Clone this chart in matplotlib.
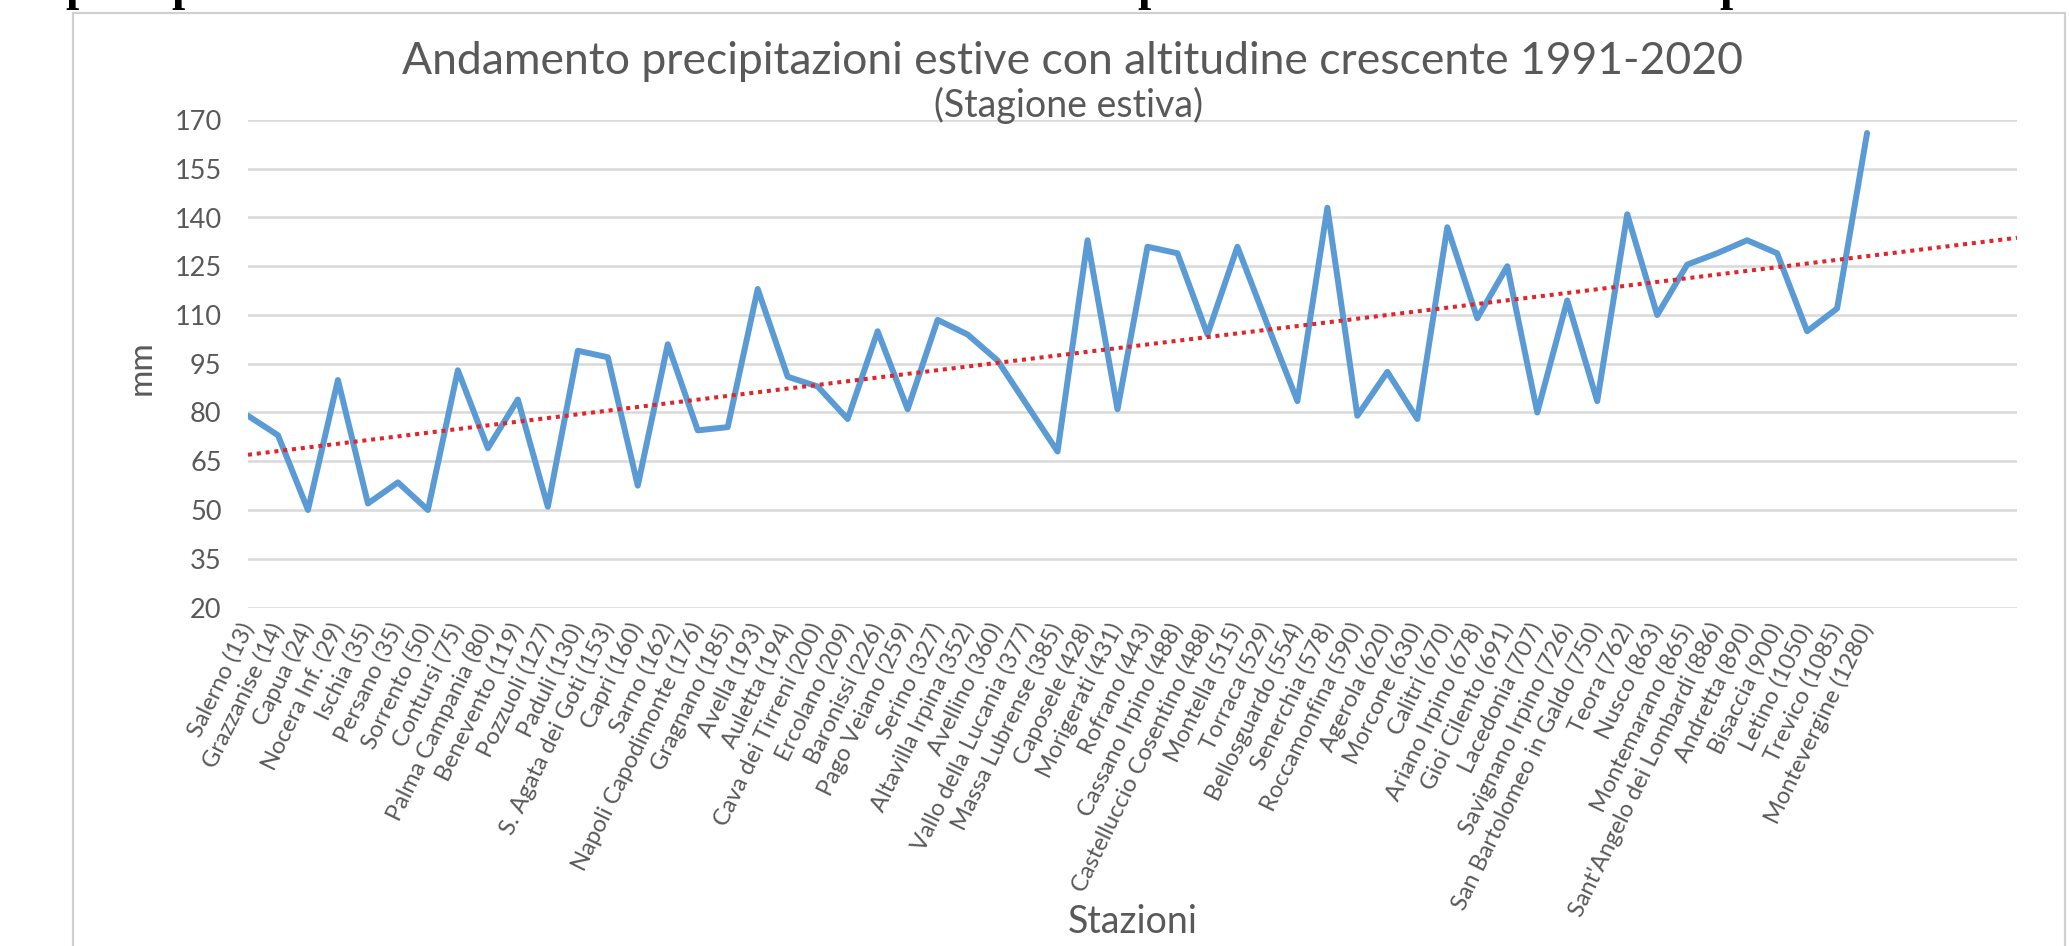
import numpy as np
import matplotlib
matplotlib.use("Agg")
from matplotlib import pyplot as plt
from matplotlib.patches import Rectangle

STATIONS = [
    "Salerno", "Grazzanise", "Capua", "Nocera Inf.", "Ischia", "Persano",
    "Sorrento", "Contursi", "Palma Campania", "Benevento", "Pozzuoli",
    "Paduli", "S. Agata dei Goti", "Capri", "Sarno", "Napoli Capodimonte",
    "Gragnano", "Avella", "Auletta", "Cava dei Tirreni", "Ercolano",
    "Baronissi", "Pago Veiano", "Serino", "Altavilla Irpina", "Avellino",
    "Vallo della Lucania", "Massa Lubrense", "Caposele", "Morigerati",
    "Rofrano", "Cassano Irpino", "Castelluccio Cosentino", "Montella",
    "Torraca", "Bellosguardo", "Senerchia", "Roccamonfina", "Agerola",
    "Morcone", "Calitri", "Ariano Irpino", "Gioi Cilento", "Lacedonia",
    "Savignano Irpino", "San Bartolomeo in Galdo", "Teora", "Nusco",
    "Montemarano", "Sant'Angelo dei Lombardi", "Andretta", "Bisaccia",
    "Letino", "Trevico", "Montevergine",
]
ALTITUDES = [
    13, 14, 24, 29, 35, 35, 50, 75, 80, 119, 127, 130, 153, 160, 162, 176,
    185, 193, 194, 200, 209, 226, 259, 327, 352, 360, 377, 385, 428, 431,
    443, 488, 488, 515, 529, 554, 578, 590, 620, 630, 670, 678, 691, 707,
    726, 750, 762, 863, 865, 886, 890, 900, 1050, 1085, 1280,
]
RAIN_MM = [
    79, 73, 50, 90, 52, 58.5, 50, 93, 69, 84, 51, 99, 97, 57.5, 101, 74.5,
    75.5, 118, 91, 88, 78, 105, 81, 108.5, 104, 96, 82, 68, 133, 81, 131,
    129, 104, 131, 107, 83.5, 143, 79, 92.5, 78, 137, 109, 125, 80, 114.5,
    83.5, 141, 110, 125.5, 129, 133, 129, 105, 112, 166,
]
Y_TICKS = [20, 35, 50, 65, 80, 95, 110, 125, 140, 155, 170]
N_SLOTS = 60  # category axis keeps a few empty slots after the last station

GREY = "#595959"
plt.rcParams["font.family"] = ["Lato", "DejaVu Sans"]

fig = plt.figure(figsize=(20.69, 9.46), dpi=100)

# chart frame (runs past the bottom edge of the picture)
fig.patches.append(Rectangle((73 / 2069, -0.05), (2065 - 73) / 2069, 1.05 - 13 / 946,
                             transform=fig.transFigure, fill=False,
                             edgecolor="#d0d0d0", lw=1.6))

# cut off text from the page above the chart
for px in [78, 184, 1150, 1732]:
    fig.text(px / 2069, 1.0, "p", ha="center", va="baseline", fontsize=34,
             fontweight="bold", family="Liberation Serif", color="black")

ax = fig.add_axes([248 / 2069, 1 - 607.5 / 946, (2017 - 248) / 2069, (607.5 - 120) / 946])

x = np.arange(len(RAIN_MM))
ax.plot(x, RAIN_MM, color="#5b9bd5", lw=4.3, solid_joinstyle="round",
        solid_capstyle="round", zorder=3)

slope, icpt = np.polyfit(x, RAIN_MM, 1)
xt = np.array([0, N_SLOTS - 1])
ax.plot(xt, icpt + slope * xt, color="#e3242b", lw=2.9,
        linestyle=(0, (1, 1.2)), zorder=4)

ax.set_xlim(0, N_SLOTS - 1)
ax.set_ylim(Y_TICKS[0], Y_TICKS[-1])
ax.set_yticks(Y_TICKS)
ax.yaxis.grid(True, color="#d9d9d9", lw=1.8)
ax.set_axisbelow(True)
for s in ax.spines.values():
    s.set_visible(False)

labels = [f"{n} ({a})" for n, a in zip(STATIONS, ALTITUDES)]
ax.set_xticks(x)
ax.set_xticklabels(labels, rotation=64, ha="right", va="center",
                   rotation_mode="anchor", fontsize=17, color=GREY)
ax.tick_params(axis="x", length=0, pad=12)
ax.tick_params(axis="y", length=0, pad=19, labelsize=19.5, labelcolor=GREY)

fig.text(1072 / 2069, 1 - 61 / 946,
         "Andamento precipitazioni estive con altitudine crescente 1991-2020",
         ha="center", va="center", fontsize=32, color=GREY)
fig.text(1069 / 2069, 1 - 105 / 946, "(Stagione estiva)",
         ha="center", va="center", fontsize=27, color=GREY)
fig.text(142 / 2069, 1 - 368 / 946, "mm", rotation=90,
         ha="center", va="center", fontsize=24, color=GREY)
fig.text(1133 / 2069, 1 - 922 / 946, "Stazioni",
         ha="center", va="center", fontsize=27, color=GREY)

fig.savefig("out.png", dpi=100, facecolor="white")
